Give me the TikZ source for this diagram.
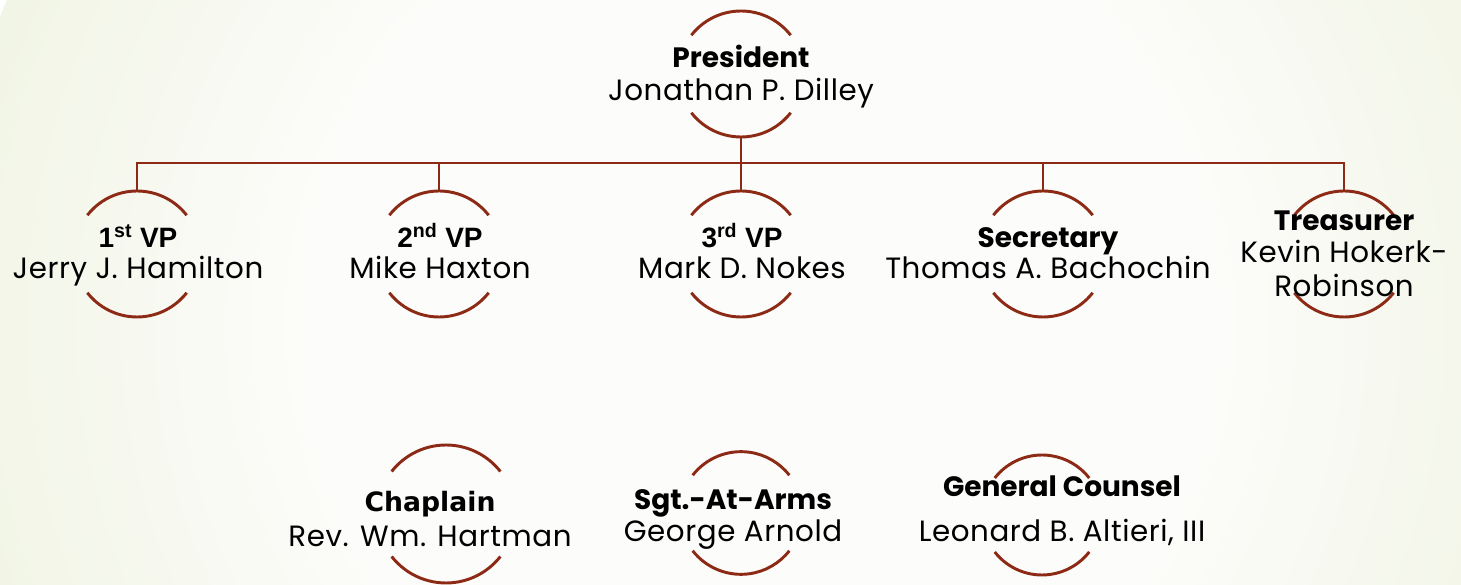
\documentclass[tikz,border=0pt]{standalone}
\usepackage{fontspec}
\setmainfont{Poppins}
\newfontfamily\arialf{Liberation Sans}
\newfontfamily\dejaf{DejaVu Sans}
\usetikzlibrary{calc}
\definecolor{arcred}{RGB}{140,42,22}
\definecolor{bgout}{RGB}{220,231,188}
\definecolor{bgin}{RGB}{252,252,250}
\pgfdeclareradialshading{bgshade}{\pgfpoint{0bp}{0bp}}{color(0bp)=(bgin); color(14bp)=(bgin); color(46bp)=(bgout); color(72bp)=(bgout)}
\tikzset{
  circ/.style={circle, draw=none, inner sep=0pt, outer sep=0pt, minimum size=94.5pt},
  arcst/.style={draw=arcred, line width=2.2pt},
  conn/.style={draw=arcred, line width=2.2pt},
  ttl/.style={anchor=base, inner sep=0pt, font=\fontsize{21}{24}\selectfont\bfseries},
  vttl/.style={anchor=base, inner sep=0pt, font=\fontsize{21}{24}\selectfont\arialf\bfseries},
  nm/.style={anchor=base, inner sep=0pt, font=\fontsize{22}{24}\selectfont\addfontfeature{LetterSpace=2}}
}
\newcommand{\arcs}[1]{%
  \draw[arcst] (#1.142) arc[start angle=142, end angle=38, radius=47.25pt];
  \draw[arcst] (#1.218) arc[start angle=218, end angle=322, radius=47.25pt];}
\begin{document}
\begin{tikzpicture}[x=0.75pt, y=0.75pt]
\useasboundingbox (0,0) rectangle (1461,585);
\begin{scope}
\clip (0,0) rectangle (1461,585);
\shade[shading=bgshade] (760,260) circle (820);
\end{scope}
% circles
\node[circ] (pres) at (741,511) {};
\node[circ] (v1) at (137,331) {};
\node[circ] (v2) at (439,331) {};
\node[circ] (v3) at (741,331) {};
\node[circ] (sec) at (1043,331) {};
\node[circ] (tre) at (1344,331) {};
\node[circ, minimum size=103.5pt] (chap) at (446,71) {};
\node[circ, minimum size=92pt] (sgt) at (741,72) {};
\node[circ, minimum size=90pt] (gc) at (1042,70) {};
\arcs{pres}\arcs{v1}\arcs{v2}\arcs{v3}\arcs{sec}\arcs{tre}
\draw[arcst] (chap.142) arc[start angle=142, end angle=38, radius=51.75pt];
\draw[arcst] (chap.218) arc[start angle=218, end angle=322, radius=51.75pt];
\draw[arcst] (sgt.142) arc[start angle=142, end angle=38, radius=46pt];
\draw[arcst] (sgt.218) arc[start angle=218, end angle=322, radius=46pt];
\draw[arcst] (gc.142) arc[start angle=142, end angle=38, radius=45pt];
\draw[arcst] (gc.218) arc[start angle=218, end angle=322, radius=45pt];
% connectors
\coordinate (bus) at (741,422);
\draw[conn] (v1.north) |- (bus) -| (tre.north);
\draw[conn] (pres.south) -- (v3.north);
\draw[conn] (v2.north) -- (v2.north |- bus);
\draw[conn] (sec.north) -- (sec.north |- bus);
% texts
\node[ttl] (t0) at (741,517) {President};
\node[nm] (n0) at (741,484) {Jonathan P. Dilley};
\node[vttl] (t1) at (138,337) {1\textsuperscript{st} VP};
\node[nm] (n1) at (138,306) {Jerry J. Hamilton};
\node[vttl] (t2) at (440,337) {2\textsuperscript{nd} VP};
\node[nm] (n2) at (440,306) {Mike Haxton};
\node[vttl] (t3) at (742,337) {3\textsuperscript{rd} VP};
\node[nm] (n3) at (742,306) {Mark D. Nokes};
\node[ttl] (t4) at (1048,337) {Secretary};
\node[nm] (n4) at (1048,306) {Thomas A. Bachochin};
\node[ttl] (t5) at (1344,354) {Treasurer};
\node[nm] (n5) at (1344,322) {Kevin Hokerk-};
\node[nm] (n5b) at (1344,288) {Robinson};
\node[anchor=base, inner sep=0pt, font=\fontsize{20}{24}\selectfont\dejaf\bfseries] (t6) at (430,73) {Chaplain};
\node[nm] (n6) at (430,38) {Rev. Wm. Hartman};
\node[ttl] (t7) at (733,75) {Sgt.-At-Arms};
\node[nm] (n7) at (733,43) {George Arnold};
\node[ttl] (t8) at (1062,88) {General Counsel};
\node[nm] (n8) at (1062,43) {Leonard B. Altieri, III};
\end{tikzpicture}
\end{document}
